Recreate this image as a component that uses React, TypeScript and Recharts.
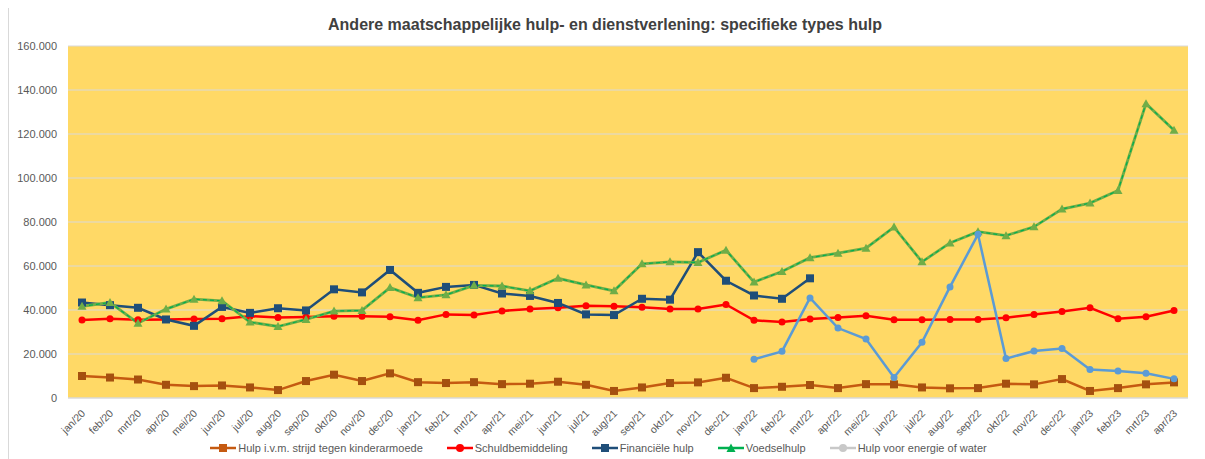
import React from 'react';
import {
  LineChart, Line, XAxis, YAxis, CartesianGrid, Legend
} from 'recharts';

const months = [
  'jan/20', 'feb/20', 'mrt/20', 'apr/20', 'mei/20', 'jun/20', 'jul/20', 'aug/20', 'sep/20', 'okt/20', 'nov/20', 'dec/20',
  'jan/21', 'feb/21', 'mrt/21', 'apr/21', 'mei/21', 'jun/21', 'jul/21', 'aug/21', 'sep/21', 'okt/21', 'nov/21', 'dec/21',
  'jan/22', 'feb/22', 'mrt/22', 'apr/22', 'mei/22', 'jun/22', 'jul/22', 'aug/22', 'sep/22', 'okt/22', 'nov/22', 'dec/22',
  'jan/23', 'feb/23', 'mrt/23', 'apr/23',
];

const kinderarmoede = [
  10000, 9300, 8400, 6000, 5400, 5700, 4800, 3600, 7700, 10600, 7700, 11200,
  7200, 6800, 7200, 6300, 6500, 7400, 6000, 3200, 4800, 6800, 7100, 9200,
  4500, 5100, 5900, 4500, 6300, 6200, 4800, 4400, 4500, 6500, 6200, 8600,
  3200, 4500, 6200, 7100,
];

const schuldbemiddeling = [
  35400, 36000, 35600, 35700, 35900, 36000, 37200, 36600, 36800, 37200, 37200, 36900,
  35300, 38000, 37700, 39600, 40400, 41000, 41900, 41700, 41300, 40500, 40500, 42500,
  35300, 34500, 35900, 36600, 37400, 35600, 35600, 35700, 35700, 36500, 38000, 39300,
  41000, 36000, 36900, 39800,
];

const financieleHulp = [
  43400, 42200, 41000, 35700, 32800, 41400, 38700, 40800, 39800, 49400, 48000, 58200,
  47800, 50500, 51400, 47500, 46400, 43200, 38000, 37700, 45100, 44700, 66300, 53300,
  46600, 45100, 54400, null, null, null, null, null, null, null, null, null,
  null, null, null, null,
];

const voedselhulp = [
  41700, 43400, 34000, 40400, 44900, 44200, 34500, 32500, 35700, 39500, 39800, 50200,
  45600, 46900, 51200, 50900, 48700, 54400, 51400, 48700, 61000, 61900, 61600, 67200,
  52700, 57500, 63800, 65800, 68100, 77700, 61900, 70500, 75600, 73800, 77800, 85900,
  88600, 94300, 133800, 121700,
];

const energieWater = [
  null, null, null, null, null, null, null, null, null, null, null, null,
  null, null, null, null, null, null, null, null, null, null, null, null,
  17600, 21200, 45500, 31800, 26800, 9300, 25300, 50500, 74400, 17900, 21400, 22500,
  13000, 12300, 11200, 8700,
];

const yTicks = [0, 20000, 40000, 60000, 80000, 100000, 120000, 140000, 160000];

const data = months.map((m, i) => ({
  month: m,
  kind: kinderarmoede[i],
  schuld: schuldbemiddeling[i],
  fin: financieleHulp[i],
  voedsel: voedselhulp[i],
  energie: energieWater[i],
}));

const legendItems = [
  { name: 'Hulp i.v.m. strijd tegen kinderarmoede', color: '#C55A11', shape: 'square' },
  { name: 'Schuldbemiddeling', color: '#FF0000', shape: 'circle' },
  { name: 'Financiële hulp', color: '#1F4E79', shape: 'square' },
  { name: 'Voedselhulp', color: '#00B050', shape: 'triangle' },
  { name: 'Hulp voor energie of water', color: '#C8C8C8', shape: 'circle' },
];

const FONT = '"Liberation Sans", Arial, sans-serif';

// Dutch thousands notation: 160000 -> 160.000
const fmtY = (v: number) => {
  if (v === 0) return '0';
  const k = Math.floor(v / 1000);
  return `${k}.000`;
};

const SquareDot = (color: string) => (props: any) => {
  const { cx, cy, index } = props;
  if (cx == null || cy == null || props.value == null) return <g key={index} />;
  return <rect key={index} x={cx - 4} y={cy - 4} width={8} height={8} fill={color} />;
};

const TriangleDot = (color: string) => (props: any) => {
  const { cx, cy, index } = props;
  if (cx == null || cy == null || props.value == null) return <g key={index} />;
  return (
    <polygon
      key={index}
      points={`${cx},${cy - 4.5} ${cx + 4.5},${cy + 3.5} ${cx - 4.5},${cy + 3.5}`}
      fill={color}
    />
  );
};

const XTick = (props: any) => {
  const { x, y, payload } = props;
  const tx = x + 4;
  const ty = y + 8;
  return (
    <text
      x={tx}
      y={ty}
      transform={`rotate(-45, ${tx}, ${ty})`}
      textAnchor="end"
      fontSize={10.5}
      fill="#595959"
      fontFamily={FONT}
    >
      {payload.value}
    </text>
  );
};

const LegendContent = () => (
  <div style={{ display: 'flex', justifyContent: 'center', gap: 24, fontFamily: FONT, fontSize: 11, color: '#595959' }}>
    {legendItems.map((it) => (
      <div key={it.name} style={{ display: 'flex', alignItems: 'center' }}>
        <svg width={26} height={10} style={{ marginRight: 2 }}>
          <line x1={0} y1={5} x2={26} y2={5} stroke={it.color} strokeWidth={2.5} />
          {it.shape === 'square' && <rect x={9} y={1} width={8} height={8} fill={it.color} />}
          {it.shape === 'circle' && <circle cx={13} cy={5} r={4} fill={it.color} />}
          {it.shape === 'triangle' && <polygon points="13,0.5 17.5,9 8.5,9" fill={it.color} />}
        </svg>
        <span>{it.name}</span>
      </div>
    ))}
  </div>
);

export default function App() {
  return (
    <div style={{ width: 1192, height: 470, border: '1px solid #D9D9D9', position: 'relative', marginTop: -1, background: '#fff' }}>
      <div
        style={{
          position: 'absolute', top: 8, left: 0, width: '100%', textAlign: 'center',
          fontFamily: FONT, fontWeight: 'bold', fontSize: 16, color: '#404040',
        }}
      >
        Andere maatschappelijke hulp- en dienstverlening: specifieke types hulp
      </div>
      <LineChart
        width={1192}
        height={458}
        data={data}
        margin={{ top: 38, right: 13, left: 0, bottom: 0 }}
      >
        <CartesianGrid vertical={false} stroke="#D9D9D9" fill="#FFD966" strokeWidth={1} />
        <XAxis
          dataKey="month"
          interval={0}
          padding={{ left: 14, right: 14 }}
          height={44}
          tick={<XTick />}
          tickLine={false}
          axisLine={{ stroke: '#D9D9D9' }}
        />
        <YAxis
          width={59}
          domain={[0, 160000]}
          ticks={yTicks}
          tickFormatter={fmtY}
          axisLine={false}
          tickLine={false}
          tickMargin={5}
          tick={{ fontSize: 11, fill: '#595959', fontFamily: FONT }}
        />
        <Legend verticalAlign="bottom" height={24} content={<LegendContent />} />
        <Line
          dataKey="kind"
          stroke="#C55A11"
          strokeWidth={2.5}
          dot={SquareDot('#A5500F')}
          isAnimationActive={false}
        />
        <Line
          dataKey="schuld"
          stroke="#FF0000"
          strokeWidth={2.5}
          dot={{ r: 3.5, fill: '#FF0000', stroke: '#FF0000', strokeWidth: 0 }}
          isAnimationActive={false}
        />
        <Line
          dataKey="fin"
          stroke="#1F4E79"
          strokeWidth={2.5}
          dot={SquareDot('#1F4E79')}
          isAnimationActive={false}
        />
        <Line
          dataKey="voedsel"
          stroke="#70AD47"
          strokeWidth={2.8}
          dot={TriangleDot('#70AD47')}
          isAnimationActive={false}
        />
        <Line
          dataKey="voedsel"
          stroke="#00B050"
          strokeWidth={1.2}
          strokeDasharray="4 3"
          dot={false}
          legendType="none"
          isAnimationActive={false}
        />
        <Line
          dataKey="energie"
          stroke="#5B9BD5"
          strokeWidth={2.5}
          dot={{ r: 3.5, fill: '#5B9BD5', stroke: '#5B9BD5', strokeWidth: 0 }}
          isAnimationActive={false}
        />
      </LineChart>
    </div>
  );
}
